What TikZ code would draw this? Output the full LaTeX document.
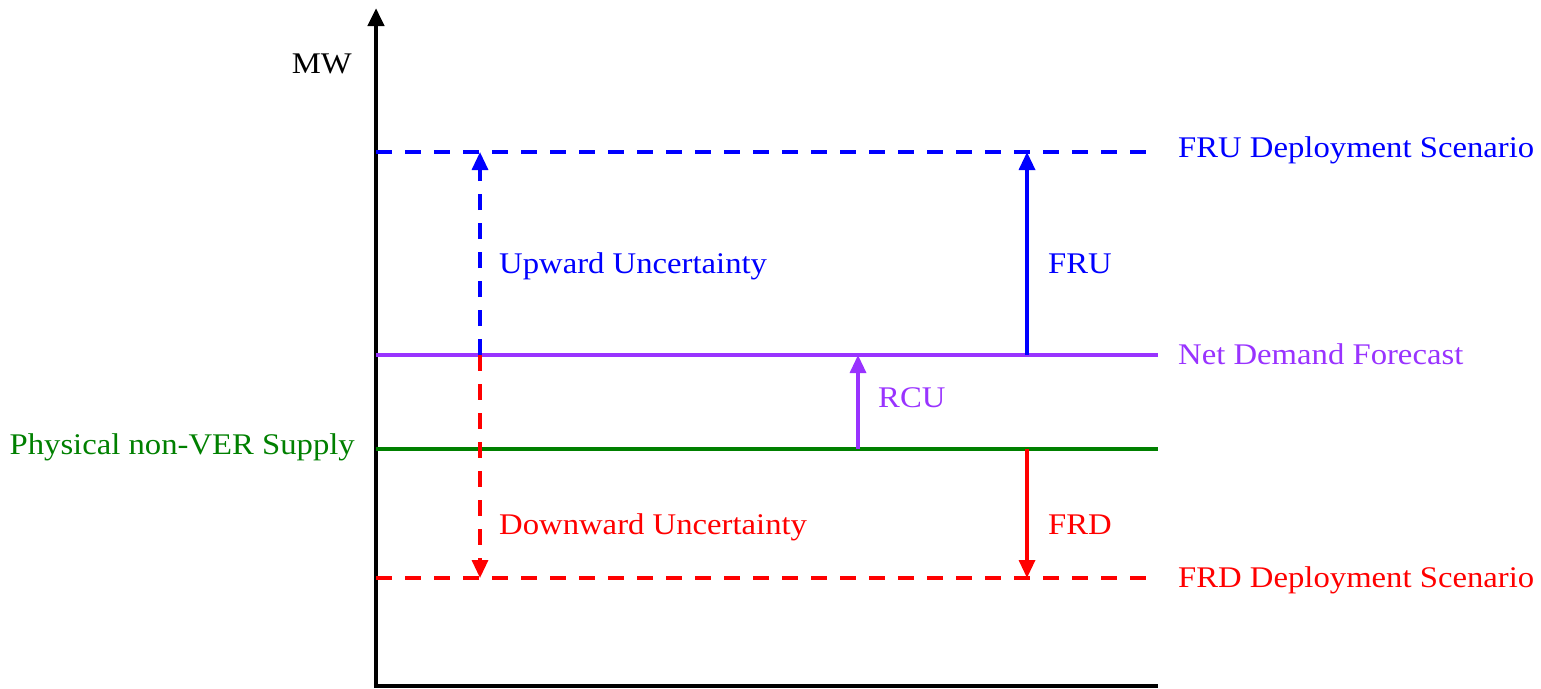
\documentclass[tikz,border=0pt]{standalone}
\usepackage{fontspec}
\setmainfont[FakeStretch=1.09]{Liberation Serif}
\usetikzlibrary{arrows.meta}
\definecolor{cblue}{RGB}{0,0,255}
\definecolor{cpurple}{RGB}{153,51,255}
\definecolor{cgreen}{RGB}{0,128,0}
\definecolor{cred}{RGB}{255,0,0}
\begin{document}
\begin{tikzpicture}[x=1pt,y=-1pt,
  lbl/.style={font=\fontsize{30}{34}\selectfont, inner sep=0pt},
  level/.style={line width=3.3pt},
  dashlevel/.style={line width=3.3pt, dash pattern=on 16pt off 13pt},
  tip/.style={-{Triangle[width=16pt,length=18pt]}, line width=3.3pt},
  dtip/.style={-{Triangle[width=16pt,length=18pt]}, line width=3.3pt, dash pattern=on 16pt off 13pt},
]
\useasboundingbox (0,0) rectangle (1541,688);
% axes
\coordinate (o) at (376,686);
\coordinate (ytop) at (376,8);
\coordinate (xend) at (1158,686);
\draw[line width=4.5pt, -{Triangle[width=16pt,length=18pt]}] (o) -- (ytop);
\draw[line width=4.5pt] ([xshift=-2.25pt]o) -- (xend);
\node[lbl, anchor=base east] (mw) at (352,73) {MW};
% level coordinates
\coordinate (fruL) at (376,152);  \coordinate (fruR) at (1158,152);
\coordinate (ndL) at (376,355);   \coordinate (ndR) at (1158,355);
\coordinate (psL) at (376,449);   \coordinate (psR) at (1158,449);
\coordinate (frdL) at (376,578);  \coordinate (frdR) at (1158,578);
\draw[dashlevel, cblue] (fruL) -- (fruR);
\draw[level, cpurple] (ndL) -- (ndR);
\draw[level, cgreen] (psL) -- (psR);
\draw[dashlevel, cred] (frdL) -- (frdR);
% right labels
\node[lbl, cblue, anchor=base west] (lfru) at (1178,157) {FRU Deployment Scenario};
\node[lbl, cpurple, anchor=base west] (lnd) at (1178,364) {Net Demand Forecast};
\node[lbl, cgreen, anchor=base east] (lps) at (355,454) {Physical non-VER Supply};
\node[lbl, cred, anchor=base west] (lfrd) at (1178,587) {FRD Deployment Scenario};
% uncertainty arrows
\coordinate (uB) at (480,355); \coordinate (uT) at (480,152);
\coordinate (dT) at (480,355); \coordinate (dB) at (480,578);
\draw[dtip, cblue] (uB) -- (uT);
\draw[dtip, cred] (dT) -- (dB);
\node[lbl, cblue, anchor=base west] (lup) at (499,273) {Upward Uncertainty};
\node[lbl, cred, anchor=base west] (ldn) at (499,534) {Downward Uncertainty};
% FRU / FRD / RCU
\coordinate (aB) at (1027,355); \coordinate (aT) at (1027,152);
\coordinate (bT) at (1027,449); \coordinate (bB) at (1027,578);
\coordinate (cB) at (858,449); \coordinate (cT) at (858,355);
\draw[tip, cblue] (aB) -- (aT);
\draw[tip, cred] (bT) -- (bB);
\draw[tip, cpurple] (cB) -- (cT);
\node[lbl, cblue, anchor=base west] (lfruA) at (1048,273) {FRU};
\node[lbl, cred, anchor=base west] (lfrdA) at (1048,534) {FRD};
\node[lbl, cpurple, anchor=base west] (lrcu) at (878,407) {RCU};
\end{tikzpicture}
\end{document}
